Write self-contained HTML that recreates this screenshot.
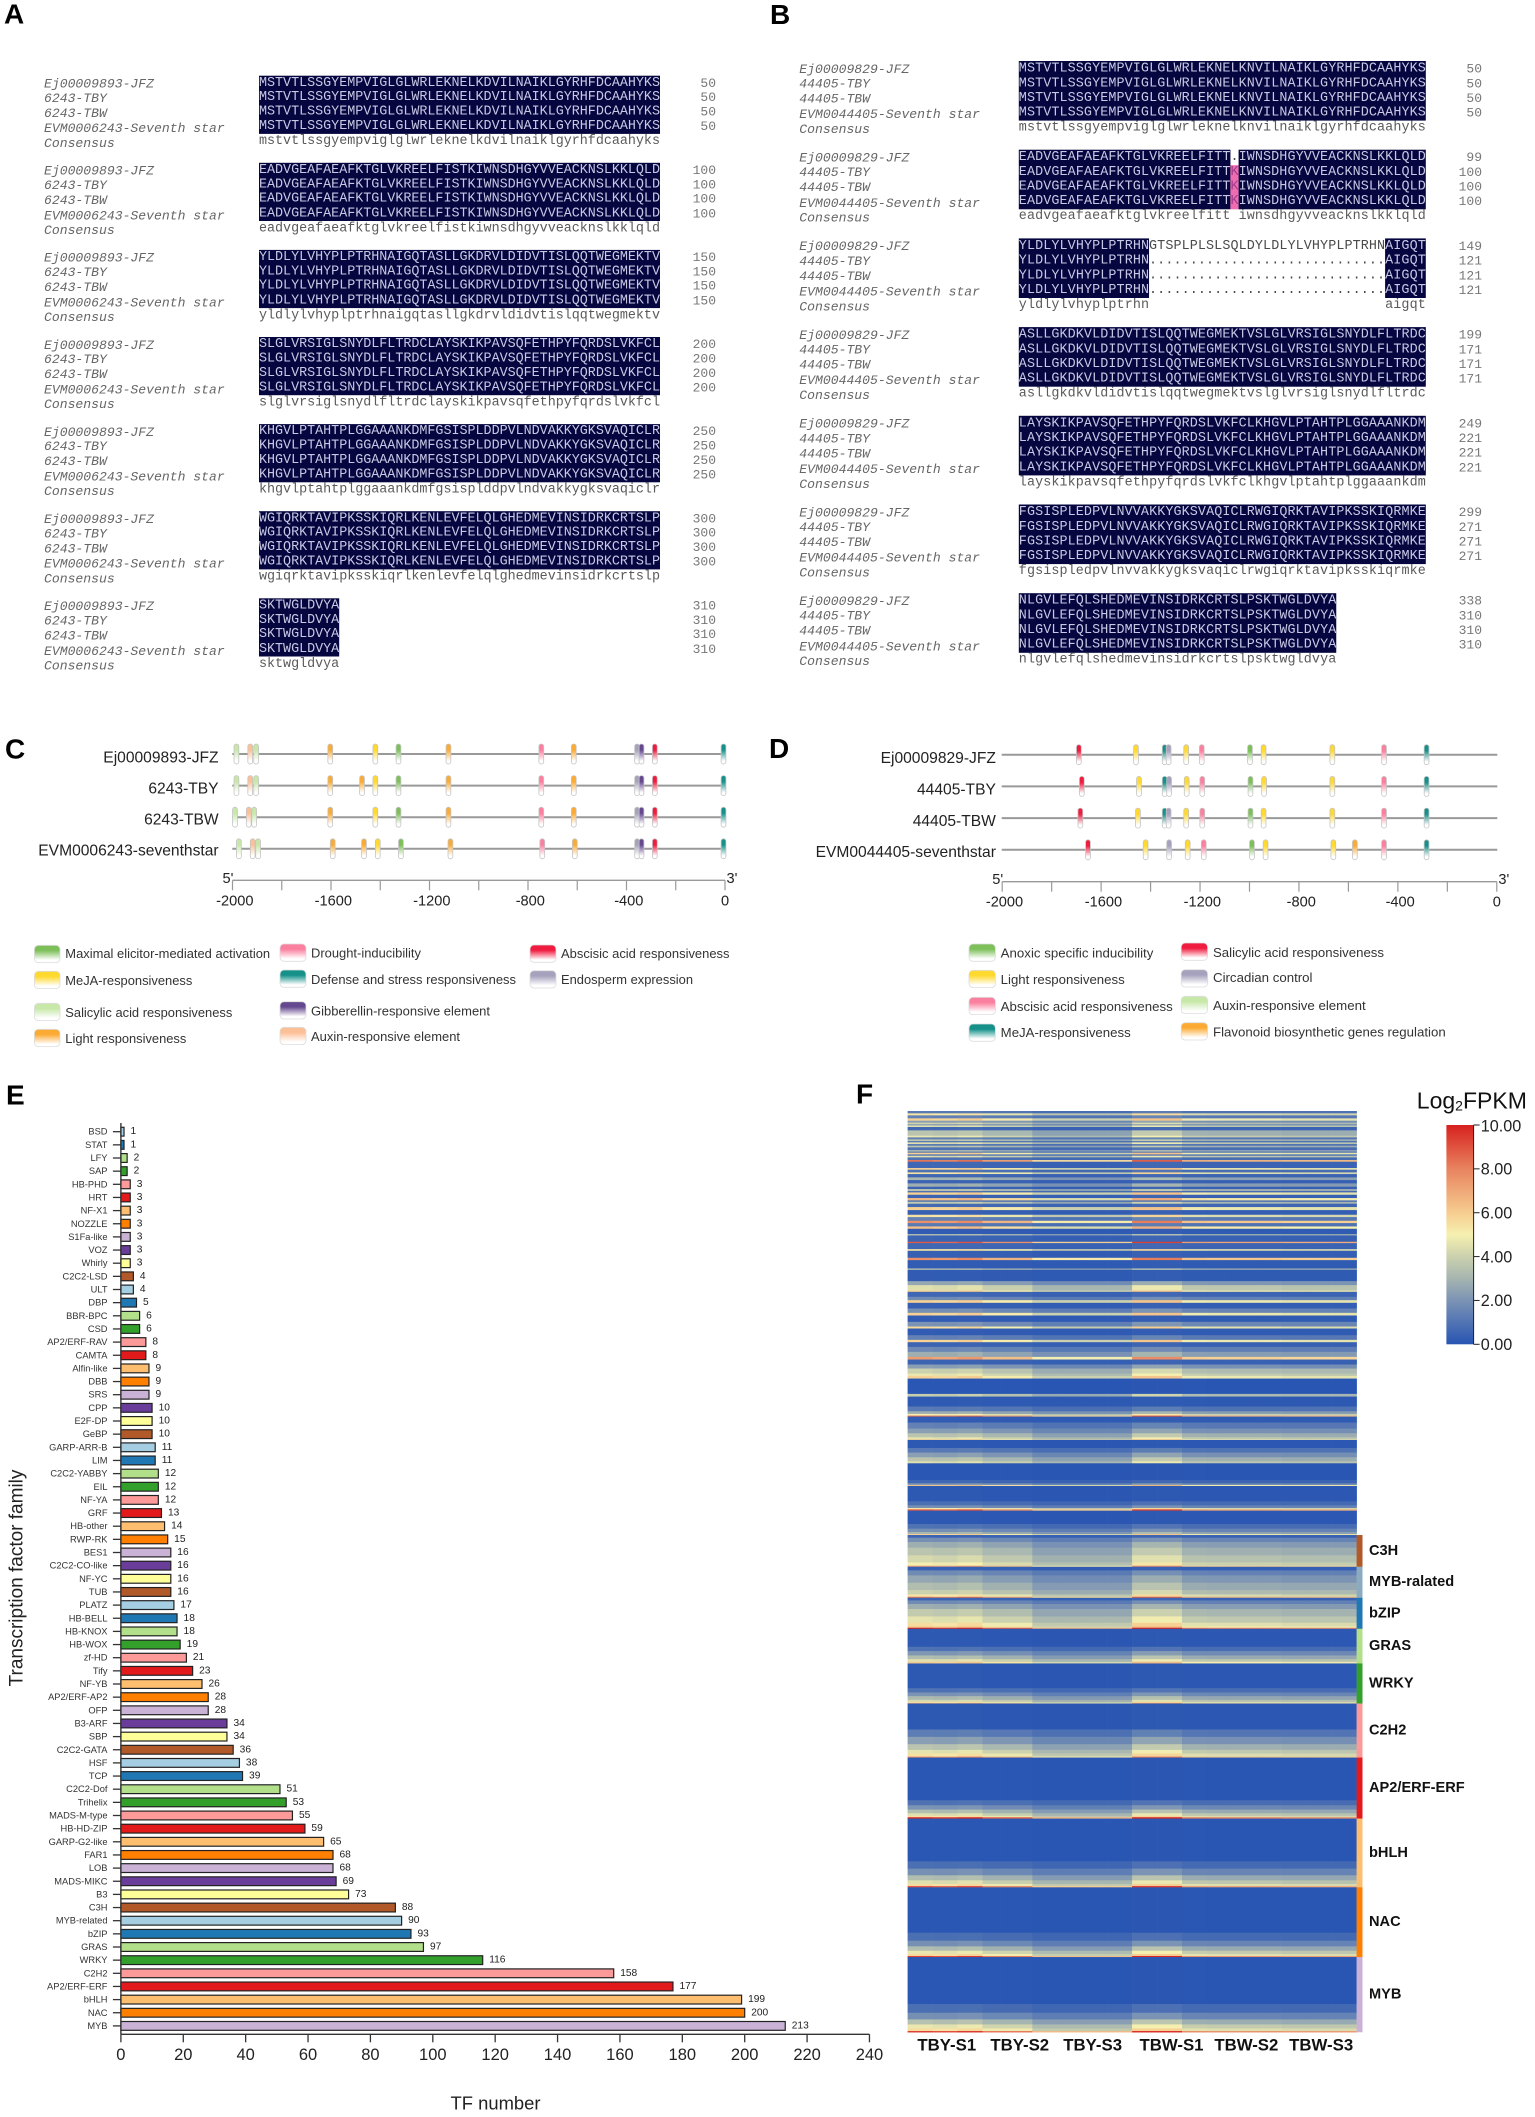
<!DOCTYPE html>
<html lang="en">
<head>
<meta charset="utf-8">
<title>Sequence alignment, promoter elements and transcription factor expression</title>
<style>
html,body{margin:0;padding:0;background:#fff;}
svg{display:block;fill:#222;}
text{font-family:"Liberation Sans",sans-serif;dominant-baseline:central;}
.mono{font-family:"Liberation Mono",monospace;font-size:13.4px;}
.seq-name{font-style:italic;fill:#666;font-size:13.1px;}
.seq-num{fill:#777;font-size:13px;text-anchor:end;}
.panel{font-weight:bold;font-size:28px;fill:#000;}
.legend{font-size:12.8px;fill:#333;}
.track-label{font-size:15.6px;text-anchor:end;}
.axis-label{font-size:14.6px;text-anchor:middle;}
.cat{font-size:9.3px;text-anchor:end;fill:#333;}
.val{font-size:10.2px;}
.xt{font-size:16.5px;text-anchor:middle;}
.sample{font-size:16.8px;font-weight:bold;text-anchor:middle;fill:#111;}
.anno{font-size:14.6px;font-weight:bold;fill:#111;}
.cbt{font-size:16.2px;}
.sw{stroke:#ddd;stroke-width:.8;}
</style>
</head>
<body>
<svg id="fig" xmlns="http://www.w3.org/2000/svg" width="1535" height="2117" viewBox="0 0 1535 2117">
<defs>
<linearGradient id="g-green" x1="0" y1="0" x2="0" y2="1"><stop offset="0" stop-color="#7dc05a"/><stop offset=".3" stop-color="#7dc05a"/><stop offset=".85" stop-color="#fff"/></linearGradient>
<linearGradient id="g-yellow" x1="0" y1="0" x2="0" y2="1"><stop offset="0" stop-color="#ffd92e"/><stop offset=".3" stop-color="#ffd92e"/><stop offset=".85" stop-color="#fff"/></linearGradient>
<linearGradient id="g-lgreen" x1="0" y1="0" x2="0" y2="1"><stop offset="0" stop-color="#c7e8a8"/><stop offset=".3" stop-color="#c7e8a8"/><stop offset=".85" stop-color="#fff"/></linearGradient>
<linearGradient id="g-orange" x1="0" y1="0" x2="0" y2="1"><stop offset="0" stop-color="#fbab34"/><stop offset=".3" stop-color="#fbab34"/><stop offset=".85" stop-color="#fff"/></linearGradient>
<linearGradient id="g-pink" x1="0" y1="0" x2="0" y2="1"><stop offset="0" stop-color="#fb7f9e"/><stop offset=".3" stop-color="#fb7f9e"/><stop offset=".85" stop-color="#fff"/></linearGradient>
<linearGradient id="g-teal" x1="0" y1="0" x2="0" y2="1"><stop offset="0" stop-color="#16918a"/><stop offset=".3" stop-color="#16918a"/><stop offset=".85" stop-color="#fff"/></linearGradient>
<linearGradient id="g-purple" x1="0" y1="0" x2="0" y2="1"><stop offset="0" stop-color="#65498f"/><stop offset=".3" stop-color="#65498f"/><stop offset=".85" stop-color="#fff"/></linearGradient>
<linearGradient id="g-peach" x1="0" y1="0" x2="0" y2="1"><stop offset="0" stop-color="#fcc096"/><stop offset=".3" stop-color="#fcc096"/><stop offset=".85" stop-color="#fff"/></linearGradient>
<linearGradient id="g-red" x1="0" y1="0" x2="0" y2="1"><stop offset="0" stop-color="#ef1c3f"/><stop offset=".3" stop-color="#ef1c3f"/><stop offset=".85" stop-color="#fff"/></linearGradient>
<linearGradient id="g-grey" x1="0" y1="0" x2="0" y2="1"><stop offset="0" stop-color="#a6a2bd"/><stop offset=".3" stop-color="#a6a2bd"/><stop offset=".85" stop-color="#fff"/></linearGradient>
<linearGradient id="g-colorbar" x1="0" y1="1" x2="0" y2="0"></linearGradient>
</defs>

<text class="panel" x="4" y="14">A</text>
<text class="panel" x="770" y="14.5">B</text>
<text class="panel" x="5" y="749">C</text>
<text class="panel" x="769" y="748.5">D</text>
<text class="panel" x="6" y="1095">E</text>
<text class="panel" x="856" y="1094">F</text>

<g id="align-a"></g>
<g id="align-b"></g>
<g id="prom-c"></g>
<g id="prom-d"></g>

<g>
<g><rect class="sw" x="34.4" y="945.3" width="25.6" height="17.3" rx="4" fill="url(#g-green)"/><text class="legend" x="65.3" y="953.3" textLength="204.8" lengthAdjust="spacingAndGlyphs">Maximal elicitor-mediated activation</text></g>
<g><rect class="sw" x="34.4" y="971.3" width="25.6" height="17.3" rx="4" fill="url(#g-yellow)"/><text class="legend" x="65.3" y="980.3" textLength="127" lengthAdjust="spacingAndGlyphs">MeJA-responsiveness</text></g>
<g><rect class="sw" x="34.4" y="1003.3" width="25.6" height="17.3" rx="4" fill="url(#g-lgreen)"/><text class="legend" x="65.3" y="1012.3" textLength="167" lengthAdjust="spacingAndGlyphs">Salicylic acid responsiveness</text></g>
<g><rect class="sw" x="34.4" y="1029.3" width="25.6" height="17.3" rx="4" fill="url(#g-orange)"/><text class="legend" x="65.3" y="1038.3" textLength="121" lengthAdjust="spacingAndGlyphs">Light responsiveness</text></g>
<g><rect class="sw" x="280" y="944" width="26" height="17.3" rx="4" fill="url(#g-pink)"/><text class="legend" x="311" y="953" textLength="110" lengthAdjust="spacingAndGlyphs">Drought-inducibility</text></g>
<g><rect class="sw" x="280" y="970" width="26" height="17.3" rx="4" fill="url(#g-teal)"/><text class="legend" x="311" y="979.3" textLength="205" lengthAdjust="spacingAndGlyphs">Defense and stress responsiveness</text></g>
<g><rect class="sw" x="280" y="1001.7" width="26" height="17.3" rx="4" fill="url(#g-purple)"/><text class="legend" x="311" y="1011" textLength="179" lengthAdjust="spacingAndGlyphs">Gibberellin-responsive element</text></g>
<g><rect class="sw" x="280" y="1027.3" width="26" height="17.3" rx="4" fill="url(#g-peach)"/><text class="legend" x="311" y="1036.7" textLength="149" lengthAdjust="spacingAndGlyphs">Auxin-responsive element</text></g>
<g><rect class="sw" x="530" y="945" width="26" height="17.3" rx="4" fill="url(#g-red)"/><text class="legend" x="561" y="953.7" textLength="168.5" lengthAdjust="spacingAndGlyphs">Abscisic acid responsiveness</text></g>
<g><rect class="sw" x="530" y="970.7" width="26" height="17.3" rx="4" fill="url(#g-grey)"/><text class="legend" x="561" y="979.7" textLength="132" lengthAdjust="spacingAndGlyphs">Endosperm expression</text></g>
</g>

<g>
<g><rect class="sw" x="969" y="944" width="26.4" height="17.3" rx="4" fill="url(#g-green)"/><text class="legend" x="1000.7" y="953" textLength="152.7" lengthAdjust="spacingAndGlyphs">Anoxic specific inducibility</text></g>
<g><rect class="sw" x="969" y="970.3" width="26.4" height="17.3" rx="4" fill="url(#g-yellow)"/><text class="legend" x="1000.7" y="979.7" textLength="124" lengthAdjust="spacingAndGlyphs">Light responsiveness</text></g>
<g><rect class="sw" x="969" y="997.3" width="26.4" height="17.3" rx="4" fill="url(#g-pink)"/><text class="legend" x="1000.7" y="1006.3" textLength="172" lengthAdjust="spacingAndGlyphs">Abscisic acid responsiveness</text></g>
<g><rect class="sw" x="969" y="1024" width="26.4" height="17.3" rx="4" fill="url(#g-teal)"/><text class="legend" x="1000.7" y="1032.7" textLength="130" lengthAdjust="spacingAndGlyphs">MeJA-responsiveness</text></g>
<g><rect class="sw" x="1181.2" y="943" width="26.4" height="17.3" rx="4" fill="url(#g-red)"/><text class="legend" x="1213" y="952.3" textLength="171" lengthAdjust="spacingAndGlyphs">Salicylic acid responsiveness</text></g>
<g><rect class="sw" x="1181.2" y="969.7" width="26.4" height="17.3" rx="4" fill="url(#g-grey)"/><text class="legend" x="1213" y="977.7" textLength="99.5" lengthAdjust="spacingAndGlyphs">Circadian control</text></g>
<g><rect class="sw" x="1181.2" y="996.3" width="26.4" height="17.3" rx="4" fill="url(#g-lgreen)"/><text class="legend" x="1213" y="1005.3" textLength="152.7" lengthAdjust="spacingAndGlyphs">Auxin-responsive element</text></g>
<g><rect class="sw" x="1181.2" y="1022.7" width="26.4" height="17.3" rx="4" fill="url(#g-orange)"/><text class="legend" x="1213" y="1032" textLength="232.7" lengthAdjust="spacingAndGlyphs">Flavonoid biosynthetic genes regulation</text></g>
</g>

<g id="bars">
<text x="17" y="1578" transform="rotate(-90 17 1578)" text-anchor="middle" font-size="19">Transcription factor family</text>
<text x="495.5" y="2103" text-anchor="middle" font-size="18.4">TF number</text>
</g>

<g id="heat"></g>
<g id="heat-anno"></g>
<g id="heat-x"></g>
<g id="cbar">
<text x="1416.8" y="1100.7" font-size="23" fill="#111">Log<tspan font-size="14" dy="5">2</tspan><tspan dy="-5">FPKM</tspan></text>
</g>
</svg>

<script>
/* ---------- Panel A / B alignment data ---------- */
const namesA = ['Ej00009893-JFZ','6243-TBY','6243-TBW','EVM0006243-Seventh star','Consensus'];
const namesB = ['Ej00009829-JFZ','44405-TBY','44405-TBW','EVM0044405-Seventh star','Consensus'];
const seqA = ['MSTVTLSSGYEMPVIGLGLWRLEKNELKDVILNAIKLGYRHFDCAAHYKS','EADVGEAFAEAFKTGLVKREELFISTKIWNSDHGYVVEACKNSLKKLQLD','YLDLYLVHYPLPTRHNAIGQTASLLGKDRVLDIDVTISLQQTWEGMEKTV','SLGLVRSIGLSNYDLFLTRDCLAYSKIKPAVSQFETHPYFQRDSLVKFCL','KHGVLPTAHTPLGGAAANKDMFGSISPLDDPVLNDVAKKYGKSVAQICLR','WGIQRKTAVIPKSSKIQRLKENLEVFELQLGHEDMEVINSIDRKCRTSLP','SKTWGLDVYA'];
const endsA = [50,100,150,200,250,300,310];
const seqBRef = ['MSTVTLSSGYEMPVIGLGLWRLEKNELKNVILNAIKLGYRHFDCAAHYKS','EADVGEAFAEAFKTGLVKREELFITT.IWNSDHGYVVEACKNSLKKLQLD','YLDLYLVHYPLPTRHNGTSPLPLSLSQLDYLDLYLVHYPLPTRHNAIGQT','ASLLGKDKVLDIDVTISLQQTWEGMEKTVSLGLVRSIGLSNYDLFLTRDC','LAYSKIKPAVSQFETHPYFQRDSLVKFCLKHGVLPTAHTPLGGAAANKDM','FGSISPLEDPVLNVVAKKYGKSVAQICLRWGIQRKTAVIPKSSKIQRMKE','NLGVLEFQLSHEDMEVINSIDRKCRTSLPSKTWGLDVYA'];
const seqBOther = ['MSTVTLSSGYEMPVIGLGLWRLEKNELKNVILNAIKLGYRHFDCAAHYKS','EADVGEAFAEAFKTGLVKREELFITTKIWNSDHGYVVEACKNSLKKLQLD','YLDLYLVHYPLPTRHN.............................AIGQT','ASLLGKDKVLDIDVTISLQQTWEGMEKTVSLGLVRSIGLSNYDLFLTRDC','LAYSKIKPAVSQFETHPYFQRDSLVKFCLKHGVLPTAHTPLGGAAANKDM','FGSISPLEDPVLNVVAKKYGKSVAQICLRWGIQRKTAVIPKSSKIQRMKE','NLGVLEFQLSHEDMEVINSIDRKCRTSLPSKTWGLDVYA'];
const endsBRef = [50,99,149,199,249,299,338];
const endsBOther = [50,100,121,171,221,271,310];

/* ---------- Panel C / D promoter data (position in bp, element colour) ---------- */
const promAxisTicks = [-2000,-1800,-1600,-1400,-1200,-1000,-800,-600,-400,-200,0];
const promAxisLabels = [-2000,-1600,-1200,-800,-400,0];
const trackNamesC = ['Ej00009893-JFZ','6243-TBY','6243-TBW','EVM0006243-seventhstar'];
const trackC1 = [[-1984,'lgreen'],[-1928,'peach'],[-1904,'lgreen'],[-1603,'orange'],[-1420,'yellow'],[-1326,'green'],[-1123,'orange'],[-746,'pink'],[-614,'orange'],[-357,'grey'],[-339,'purple'],[-285,'red'],[-6,'teal']];
const trackC2 = [[-1984,'lgreen'],[-1928,'peach'],[-1904,'lgreen'],[-1603,'orange'],[-1474,'orange'],[-1420,'yellow'],[-1326,'green'],[-1123,'orange'],[-746,'pink'],[-614,'orange'],[-357,'grey'],[-339,'purple'],[-285,'red'],[-6,'teal']];
const trackC3 = [[-1990,'lgreen'],[-1934,'peach'],[-1912,'lgreen'],[-1603,'orange'],[-1420,'yellow'],[-1326,'green'],[-1123,'orange'],[-746,'pink'],[-614,'orange'],[-357,'grey'],[-339,'purple'],[-285,'red'],[-6,'teal']];
const trackC4 = [[-1974,'lgreen'],[-1918,'peach'],[-1896,'lgreen'],[-1593,'orange'],[-1466,'orange'],[-1410,'yellow'],[-1316,'green'],[-1115,'orange'],[-742,'pink'],[-610,'orange'],[-357,'grey'],[-339,'purple'],[-285,'red'],[-6,'teal']];
const trackNamesD = ['Ej00009829-JFZ','44405-TBY','44405-TBW','EVM0044405-seventhstar'];
const trackD1 = [[-1690,'red'],[-1459,'yellow'],[-1343,'teal'],[-1327,'grey'],[-1256,'yellow'],[-1193,'pink'],[-998,'green'],[-943,'yellow'],[-665,'yellow'],[-456,'pink'],[-284,'teal']];
const trackD2 = [[-1678,'red'],[-1447,'yellow'],[-1343,'teal'],[-1325,'grey'],[-1254,'yellow'],[-1191,'pink'],[-996,'green'],[-941,'yellow'],[-665,'yellow'],[-456,'pink'],[-284,'teal']];
const trackD3 = [[-1684,'red'],[-1451,'yellow'],[-1343,'teal'],[-1327,'grey'],[-1256,'yellow'],[-1191,'pink'],[-996,'green'],[-943,'yellow'],[-665,'yellow'],[-456,'pink'],[-284,'teal']];
const trackD4 = [[-1653,'red'],[-1420,'yellow'],[-1325,'grey'],[-1250,'yellow'],[-1185,'pink'],[-990,'green'],[-935,'yellow'],[-661,'yellow'],[-574,'orange'],[-456,'pink'],[-284,'teal']];

/* ---------- Panel E bar chart data ---------- */
const tfFamilies = ['BSD','STAT','LFY','SAP','HB-PHD','HRT','NF-X1','NOZZLE','S1Fa-like','VOZ','Whirly','C2C2-LSD','ULT','DBP','BBR-BPC','CSD','AP2/ERF-RAV','CAMTA','Alfin-like','DBB','SRS','CPP','E2F-DP','GeBP','GARP-ARR-B','LIM','C2C2-YABBY','EIL','NF-YA','GRF','HB-other','RWP-RK','BES1','C2C2-CO-like','NF-YC','TUB','PLATZ','HB-BELL','HB-KNOX','HB-WOX','zf-HD','Tify','NF-YB','AP2/ERF-AP2','OFP','B3-ARF','SBP','C2C2-GATA','HSF','TCP','C2C2-Dof','Trihelix','MADS-M-type','HB-HD-ZIP','GARP-G2-like','FAR1','LOB','MADS-MIKC','B3','C3H','MYB-related','bZIP','GRAS','WRKY','C2H2','AP2/ERF-ERF','bHLH','NAC','MYB'];
const tfCounts = [1,1,2,2,3,3,3,3,3,3,3,4,4,5,6,6,8,8,9,9,9,10,10,10,11,11,12,12,12,13,14,15,16,16,16,16,17,18,18,19,21,23,26,28,28,34,34,36,38,39,51,53,55,59,65,68,68,69,73,88,90,93,97,116,158,177,199,200,213];
const tfXTicks = [0,20,40,60,80,100,120,140,160,180,200,220,240];
const barPalette = ['#cab2d6','#ff7f00','#fdbf6f','#e31a1c','#fb9a99','#33a02c','#b2df8a','#1f78b4','#a6cee3','#b15928','#ffff99','#6a3d9a'];

/* ---------- Panel F heatmap data: [gene rows, log2 FPKM], top to bottom ---------- */
const heatRuns = [
[7,1],[6,4.5],[9,1.2],[7,5],[6,2],[5,3.5],[3,1.5],[5,3.8],[10,.5],[16,3],[5,4],[6,1.2],[5,3],[4,1],[5,3.8],[5,1],[5,3],[8,.8],[5,2.5],[3,.8],[5,5],[4,.8],[5,3.8],[8,.8],[5,7],[19,.5],[5,5],[8,.8],[5,4.6],[10,.5],[8,2.6],[10,.4],[10,2.4],[7,.4],[6,3],[4,.6],[7,5],[10,.4],[7,5.5],[4,.6],[6,3.2],[10,.6],[9,5],[14,.3],[7,4.6],[11,1.2],[7,6.5],[10,1],[7,5.4],[16,.2],[4,3],[19,.4],[4,7.5],[18,.5],[5,4.6],[21,.3],[7,6.5],[25,.2],[4,3],[34,.2],
[12,2.2],[16,3.8],[4,5],
[15,.5],[10,1.5],[8,5],
[17,.3],[13,1.6],[8,5],
[19,.2],[14,1.7],[6,4.8],
[20,.2],[14,1.2],[7,5],
[14,.4],[15,1.4],[15,2.4],[8,6.2],
[15,.4],[12,2],[15,3.4],[7,4],[8,5],
[46,.05],[8,3.3],
[30,.15],[14,1],[8,2.4],[5,4.2],[3,7.2],
[18,.2],[18,1.2],[14,2],[12,3],[6,3.9],[2,5],
[24,.1],[14,1],[14,2],[12,3],[6,3.8],
[50,.05],[10,.5],[5,1.8],[3,5.3],
[46,.1],[12,.7],[8,1.6],[4,4.5],[4,7.5],
[40,.1],[14,.8],[10,1.6],[6,2.6],[3,5],
[8,.4],[13,1.6],[17,2.4],[23,3],[21,3.6],[10,4.2],[3,6.2],
[11,.3],[15,1.5],[22,2.2],[22,2.8],[13,3.4],[7,4.5],[3,7],
[8,.4],[11,1.5],[15,2.4],[22,3.2],[19,3.9],[11,4.7],[4,5.3],[3,8.5],
[54,.1],[13,.8],[13,1.8],[11,2.8],[8,3.8],[5,5.2],
[74,.1],[13,.8],[11,1.7],[11,2.7],[6,3.6],[3,4.5],[2,5.8],
[78,.1],[22,1.1],[22,2],[17,3],[11,3.9],[9,4.6],[3,6.5],
[128,.05],[15,.8],[13,1.7],[11,2.8],[8,3.8],[4,4.6],[4,8.5],
[128,.05],[22,.7],[20,1.6],[15,2.8],[11,3.8],[6,4.7],[4,7.5],
[136,.05],[24,.7],[17,1.6],[13,2.8],[10,4],[6,4.8],[3,8],
[141,.05],[26,.7],[20,1.6],[15,2.9],[12,4],[8,4.7],[3,8.2]
];
const heatColumnEffect = [.18,.14,.2,.03,.03,-.2,-.2,-.2,-.2,.25,.25,-.03,-.05,-.05,-.05,-.08,-.08,-.08];
const heatSamples = ['TBY-S1','TBY-S2','TBY-S3','TBW-S1','TBW-S2','TBW-S3'];
const annoFamilies = ['C3H','MYB-ralated','bZIP','GRAS','WRKY','C2H2','AP2/ERF-ERF','bHLH','NAC','MYB'];
const annoRows = [95,93,93,104,120,162,183,206,209,225];
const annoColors = ['#b15928','#8dabc0','#1f78b4','#b2df8a','#33a02c','#fb9a99','#e31a1c','#fdbf6f','#ff7f00','#cab2d6'];
const colorbarTicks = [0,2,4,6,8,10];
const colorValues = [0,2,3,4,5,6,8,10];
const colorHexes = ['#2855b3','#7b93b4','#a6b5b0','#cbd1ae','#f6f0b0','#f6cd90','#e8835f','#d7211e'];

/* ---------- Helpers ---------- */
const NS = 'http://www.w3.org/2000/svg';
function el(tag, attrs, parent) {
  const e = document.createElementNS(NS, tag);
  for (const k in attrs) e.setAttribute(k, attrs[k]);
  parent.appendChild(e);
  return e;
}
function label(parent, x, y, str, attrs) {
  const e = el('text', Object.assign({x: x, y: y}, attrs || {}), parent);
  e.textContent = str;
  return e;
}

/* ---------- Alignment ---------- */
function drawAlignment(cfg) {
  const g = document.getElementById(cfg.id);
  cfg.refSeq.forEach(function (ref, b) {
    const top = cfg.top + b * cfg.pitch;
    const rows = [ref, cfg.otherSeq[b], cfg.otherSeq[b], cfg.otherSeq[b]];
    const n = ref.length;
    const klass = [];
    for (let c = 0; c < n; c++) {
      const chars = rows.map(function (r) { return r[c]; });
      const same = chars.every(function (ch) { return ch === chars[0]; });
      if (same && chars[0] !== '.') klass.push('c');
      else if (chars[1] !== '.' && chars[1] === chars[2] && chars[2] === chars[3]) klass.push('p');
      else klass.push('n');
    }
    let s = 0;
    while (s < n) {
      let e = s;
      while (e < n && klass[e] === klass[s]) e++;
      if (klass[s] === 'c') {
        const r = el('rect', {x: cfg.x + s * cfg.cw, y: top, width: (e - s) * cfg.cw, height: cfg.h, fill: '#05053f'}, g);
        
        
      } else if (klass[s] === 'p') {
        const r = el('rect', {x: cfg.x + s * cfg.cw, y: top + cfg.seqY[1] - 7.3, width: (e - s) * cfg.cw, height: cfg.h - cfg.seqY[1] + 7.3, fill: '#f06cb0'}, g);
        
        
      }
      s = e;
    }
    rows.forEach(function (row, ri) {
      let a = 0;
      while (a < n) {
        let z = a;
        const rk = (klass[a] === 'p' && ri === 0) ? 'n' : klass[a];
        while (z < n && klass[z] === klass[a]) z++;
        const fill = rk === 'c' ? '#c8c8e4' : rk === 'p' ? '#a33c8c' : '#4a4a4a';
        const t = label(g, cfg.x + a * cfg.cw, top + cfg.seqY[ri], row.slice(a, z), {'class': 'mono', fill: fill, textLength: (z - a) * cfg.cw, lengthAdjust: 'spacing'});
        
        
        a = z;
      }
      const num = label(g, cfg.numX, top + cfg.seqY[ri], String((ri === 0 ? cfg.refEnds : cfg.otherEnds)[b]), {'class': 'mono seq-num'});
      
      
    });
    let a = 0;
    while (a < n) {
      if (klass[a] !== 'c') { a++; continue; }
      let z = a;
      while (z < n && klass[z] === 'c') z++;
      const t = label(g, cfg.x + a * cfg.cw, top + cfg.consY, ref.slice(a, z).toLowerCase(), {'class': 'mono', fill: '#5a5a5a', textLength: (z - a) * cfg.cw, lengthAdjust: 'spacing'});
      
      
      a = z;
    }
    cfg.names.forEach(function (nm, i) {
      const t = label(g, cfg.nameX, top + cfg.nameY[i], nm, {'class': 'mono seq-name'});
      
      
    });
  });
}
drawAlignment({id: 'align-a', names: namesA, refSeq: seqA, otherSeq: seqA, refEnds: endsA, otherEnds: endsA, top: 75.7, pitch: 87.1, h: 58.2, x: 259, cw: 8.02, nameX: 44, numX: 716, seqY: [7.6, 22, 36.3, 51], consY: 66, nameY: [8.3, 22.6, 37.6, 53, 67.6]});
drawAlignment({id: 'align-b', names: namesB, refSeq: seqBRef, otherSeq: seqBOther, refEnds: endsBRef, otherEnds: endsBOther, top: 61, pitch: 88.7, h: 59.6, x: 1018.8, cw: 8.14, nameX: 799.3, numX: 1482, seqY: [8, 22.8, 37.4, 52], consY: 67, nameY: [8.3, 23, 38, 53.6, 68.5]});

/* ---------- Promoter tracks ---------- */
function drawPromoter(cfg) {
  const g = document.getElementById(cfg.id);
  const bp = function (v) { return cfg.x0 + (v + 2000) * (cfg.x1 - cfg.x0) / 2000; };
  cfg.tracks.forEach(function (track, i) {
    const y = cfg.trackTop + i * cfg.trackPitch;
    const line = el('line', {x1: cfg.lineX0, x2: cfg.lineX1, y1: y, y2: y, stroke: '#999', 'stroke-width': 2}, g);
    
    
    track.forEach(function (m) {
      const r = el('rect', {x: bp(m[0]) - 2.4, y: y - 10, width: 4.8, height: 20, rx: 2.4, fill: 'url(#g-' + m[1] + ')', stroke: '#c4c4c4', 'stroke-width': .8}, g);
      
      
    });
    const t = label(g, cfg.labelX, cfg.labelTop + i * cfg.labelPitch, cfg.names[i], {'class': 'track-label'});
    
    
  });
  const axis = el('line', {x1: cfg.x0, x2: cfg.x1, y1: cfg.axisY, y2: cfg.axisY, stroke: '#999', 'stroke-width': 1.3}, g);
  
  
  promAxisTicks.forEach(function (v) {
    const tk = el('line', {x1: bp(v), x2: bp(v), y1: cfg.axisY, y2: cfg.axisY + 10, stroke: '#999', 'stroke-width': 1.2}, g);
    
    
  });
  promAxisLabels.forEach(function (v) {
    const t = label(g, bp(v) + (v === 0 ? 0 : 2.3), cfg.axisY + 21, String(v), {'class': 'axis-label'});
    
    
  });
  const five = label(g, cfg.x0 - 4.5, cfg.axisY - 1.5, "5'", {'class': 'axis-label'});
  
  
  const three = label(g, cfg.x1 + 7, cfg.axisY - 1.5, "3'", {'class': 'axis-label'});
  
  
}
drawPromoter({id: 'prom-c', names: trackNamesC, tracks: [trackC1, trackC2, trackC3, trackC4], x0: 232.5, x1: 725, lineX0: 232.3, lineX1: 725.4, trackTop: 754, trackPitch: 31.6, labelX: 218.6, labelTop: 758, labelPitch: 31, axisY: 880.3});
drawPromoter({id: 'prom-d', names: trackNamesD, tracks: [trackD1, trackD2, trackD3, trackD4], x0: 1002.2, x1: 1496.8, lineX0: 1001.7, lineX1: 1497.3, trackTop: 754.7, trackPitch: 31.7, labelX: 995.9, labelTop: 758.7, labelPitch: 31.3, axisY: 881.7});

/* ---------- Bar chart ---------- */
(function () {
  const g = document.getElementById('bars');
  const X0 = 120.9, PX = 3.119, Y0 = 1131.7, STEP = 13.15, AXIS_Y = 2034.3;
  const xs = function (v) { return X0 + v * PX; };
  const ys = function (i) { return Y0 + i * STEP; };
  const total = tfFamilies.length;
  tfFamilies.forEach(function (name, i) {
    const y = ys(i);
    const tick = el('line', {x1: X0 - 8, x2: X0, y1: y, y2: y, stroke: '#333', 'stroke-width': 1.3}, g);
    
    
    const bar = el('rect', {x: X0, y: y - 4.4, width: tfCounts[i] * PX, height: 8.8, fill: barPalette[(total - 1 - i) % 12], stroke: '#222', 'stroke-width': 1.2}, g);
    
    
    const c = label(g, 107.5, y, name, {'class': 'cat'});
    
    
    const v = label(g, xs(tfCounts[i]) + 6.5, y, String(tfCounts[i]), {'class': 'val'});
    
    
  });
  const yAxis = el('line', {x1: X0, x2: X0, y1: 1123, y2: AXIS_Y, stroke: '#333', 'stroke-width': 1.4}, g);
  
  
  const xAxis = el('line', {x1: X0, x2: xs(240), y1: AXIS_Y, y2: AXIS_Y, stroke: '#333', 'stroke-width': 1.4}, g);
  
  
  tfXTicks.forEach(function (v) {
    const tk = el('line', {x1: xs(v), x2: xs(v), y1: AXIS_Y, y2: AXIS_Y + 8, stroke: '#333', 'stroke-width': 1.3}, g);
    
    
    const t = label(g, xs(v), 2055, String(v), {'class': 'xt'});
    
    
  });
})();

/* ---------- Heatmap ---------- */
function heatColor(v) {
  const clamp = Math.max(0, Math.min(10, v));
  let i = 0;
  while (i < colorValues.length - 2 && clamp > colorValues[i + 1]) i++;
  const f = (clamp - colorValues[i]) / (colorValues[i + 1] - colorValues[i]);
  const a = colorHexes[i], b = colorHexes[i + 1];
  const ch = function (p) {
    const x = parseInt(a.substr(p, 2), 16), y = parseInt(b.substr(p, 2), 16);
    return Math.round(x + (y - x) * f);
  };
  return 'rgb(' + ch(1) + ',' + ch(3) + ',' + ch(5) + ')';
}
(function () {
  const g = document.getElementById('heat');
  const X = 907.6, W = 449, TOP = 1111, BOTTOM = 2032.1;
  const rowsTotal = heatRuns.reduce(function (s, r) { return s + r[0]; }, 0);
  const rowPx = (BOTTOM - TOP) / rowsTotal;
  const colW = W / heatColumnEffect.length;
  let cum = 0;
  heatRuns.forEach(function (run) {
    const y = TOP + cum * rowPx;
    const h = run[0] * rowPx;
    heatColumnEffect.forEach(function (eff, c) {
      const cell = el('rect', {x: X + c * colW, y: y, width: colW + .3, height: h + .35, fill: heatColor(run[1] * (1 + eff))}, g);
      
      
    });
    cum += run[0];
  });

  const ag = document.getElementById('heat-anno');
  const annoTotal = annoRows.reduce(function (s, r) { return s + r; }, 0);
  let a = BOTTOM - annoTotal * rowPx;
  annoFamilies.forEach(function (name, i) {
    const h = annoRows[i] * rowPx;
    const r = el('rect', {x: X + W, y: a, width: 5.9, height: h + .2, fill: annoColors[i]}, ag);
    
    
    const t = label(ag, 1369, a + h / 2, name, {'class': 'anno'});
    
    
    a += h;
  });

  const xg = document.getElementById('heat-x');
  const slot = W / heatSamples.length;
  heatSamples.forEach(function (name, i) {
    const t = label(xg, X + slot * (i + .5) + (i < 3 ? 1.8 - i * 1.9 : 2), 2045, name, {'class': 'sample'});
    
    
  });

  const grad = document.getElementById('g-colorbar');
  colorValues.forEach(function (v, i) {
    el('stop', {offset: v / 10, 'stop-color': colorHexes[i]}, grad);
  });
  const cg = document.getElementById('cbar');
  const cbTop = 1125, cbBottom = 1344.3, cbX = 1446.4, cbW = 27.2;
  const bar = el('rect', {x: cbX, y: cbTop, width: cbW, height: cbBottom - cbTop, fill: 'url(#g-colorbar)'}, cg);
  
  
  const spine = el('line', {x1: cbX + cbW, x2: cbX + cbW, y1: cbTop, y2: cbBottom, stroke: '#222', 'stroke-width': 1}, cg);
  
  
  colorbarTicks.forEach(function (v) {
    const y = cbBottom - v / 10 * (cbBottom - cbTop);
    const tk = el('line', {x1: cbX + cbW, x2: cbX + cbW + 6, y1: y, y2: y, stroke: '#222', 'stroke-width': 1}, cg);
    
    
    const t = label(cg, 1480.7, y + (v === 10 ? 1.7 : .7), v.toFixed(2), {'class': 'cbt'});
    
    
  });
})();
</script>
</body>
</html>
